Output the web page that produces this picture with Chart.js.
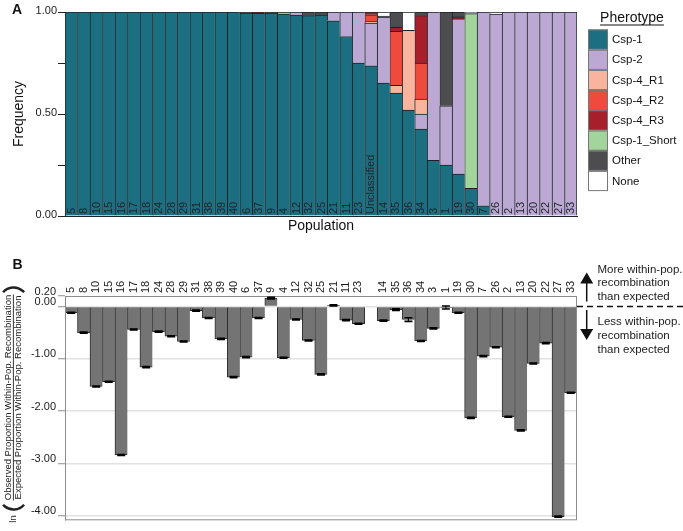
<!DOCTYPE html>
<html>
<head>
<meta charset="utf-8">
<title>Pherotype frequency and within-population recombination</title>
<script src="https://cdn.jsdelivr.net/npm/chart.js@4.4.1/dist/chart.umd.min.js"></script>
<style>
  html, body { margin: 0; padding: 0; background: #fff; }
  #wrap { position: relative; width: 683px; height: 531px; overflow: hidden; }
  #chartA { position: absolute; left: 0; top: 0; }
  #chartB { position: absolute; left: 0; top: 240px; }
</style>
</head>
<body>
<div id="wrap">
  <canvas id="chartA" width="683" height="240"></canvas>
  <canvas id="chartB" width="683" height="291"></canvas>
</div>
<script>
// populations, in the order they are plotted in both panels
const populations = ['5', '8', '10', '15', '16', '17', '18', '24', '28', '29',
  '31', '38', '39', '40', '6', '37', '9', '4', '12', '32',
  '25', '21', '11', '23', 'Unclassified', '14', '35', '36', '34', '3',
  '1', '19', '30', '7', '26', '2', '13', '20', '22', '27', '33'];

// Panel A: pherotype frequency per population
const csp1 = [1, 1, 1, 1, 1, 1, 1, 1, 1, 1,
  1, 1, 1, 1, 0.995, 0.993, 0.995, 0.99, 0.985, 0.982,
  0.985, 0.957, 0.88, 0.75, 0.736, 0.651, 0.602, 0.519, 0.426, 0.273,
  0.249, 0.206, 0.136, 0.05, 0, 0, 0, 0, 0, 0, 0];
const csp2 = [0, 0, 0, 0, 0, 0, 0, 0, 0, 0,
  0, 0, 0, 0, 0, 0, 0, 0, 0.015, 0,
  0, 0.043, 0.12, 0.25, 0.21, 0.324, 0, 0, 0.073, 0.727,
  0.291, 0.76, 0, 0.95, 0.99, 1, 1, 1, 1, 1, 1];
const csp4R1 = [0, 0, 0, 0, 0, 0, 0, 0, 0, 0,
  0, 0, 0, 0, 0, 0, 0, 0, 0, 0,
  0, 0, 0, 0, 0.008, 0, 0.038, 0.391, 0.074, 0,
  0, 0, 0, 0, 0, 0, 0, 0, 0, 0, 0];
const csp4R2 = [0, 0, 0, 0, 0, 0, 0, 0, 0, 0,
  0, 0, 0, 0, 0, 0, 0, 0, 0, 0,
  0, 0, 0, 0, 0.032, 0, 0.265, 0, 0.177, 0,
  0, 0, 0, 0, 0, 0, 0, 0, 0, 0, 0];
const csp4R3 = [0, 0, 0, 0, 0, 0, 0, 0, 0, 0,
  0, 0, 0, 0, 0, 0.007, 0, 0, 0, 0,
  0, 0, 0, 0, 0.014, 0, 0.02, 0, 0.232, 0,
  0, 0.01, 0, 0, 0, 0, 0, 0, 0, 0, 0];
const csp1Short = [0, 0, 0, 0, 0, 0, 0, 0, 0, 0,
  0, 0, 0, 0, 0, 0, 0, 0.01, 0, 0,
  0, 0, 0, 0, 0, 0, 0, 0, 0, 0,
  0, 0, 0.856, 0, 0, 0, 0, 0, 0, 0, 0];
const other = [0, 0, 0, 0, 0, 0, 0, 0, 0, 0,
  0, 0, 0, 0, 0.005, 0, 0.005, 0, 0, 0.018,
  0.015, 0, 0, 0, 0, 0.005, 0.075, 0, 0.018, 0,
  0.46, 0.024, 0, 0, 0, 0, 0, 0, 0, 0, 0];
const none = [0, 0, 0, 0, 0, 0, 0, 0, 0, 0,
  0, 0, 0, 0, 0, 0, 0, 0, 0, 0,
  0, 0, 0, 0, 0, 0.02, 0, 0.09, 0, 0,
  0, 0, 0.008, 0, 0.01, 0, 0, 0, 0, 0, 0];

// Panel B: ln(observed / expected within-pop. recombination), with error
const lnRatio = [-0.12, -0.50, -1.53, -1.44, -2.84, -0.44, -1.16, -0.48, -0.57, -0.67,
  -0.08, -0.22, -0.62, -1.35, -0.97, -0.22, 0.16, -0.98, -0.25, -0.65,
  -1.30, 0.02, -0.26, -0.33, null, -0.27, -0.06, -0.25, -0.66, -0.42,
  -0.02, -0.12, -2.13, -0.95, -0.78, -2.11, -2.37, -1.09, -0.70, -4.02, -1.65];
const lnRatioErr = [0.01, 0.01, 0.01, 0.01, 0.01, 0.01, 0.01, 0.01, 0.01, 0.01,
  0.01, 0.01, 0.01, 0.01, 0.01, 0.01, 0.015, 0.01, 0.01, 0.01,
  0.01, 0.01, 0.01, 0.01, null, 0.01, 0.015, 0.035, 0.01, 0.01,
  0.03, 0.01, 0.01, 0.01, 0.01, 0.01, 0.01, 0.01, 0.01, 0.01, 0.01];

const freqTicks = [0, 0.25, 0.5, 0.75, 1];
const ratioTicks = [0.2, 0, -1, -2, -3, -4];

const FONT = "'Liberation Sans', Arial, Helvetica, sans-serif";
Chart.defaults.font.family = FONT;
Chart.defaults.color = '#1a1a1a';

const pherotypes = [
  { label: 'Csp-1', data: csp1, color: '#1c6f80' },
  { label: 'Csp-2', data: csp2, color: '#bba8d3' },
  { label: 'Csp-4_R1', data: csp4R1, color: '#f8b49c' },
  { label: 'Csp-4_R2', data: csp4R2, color: '#ee4b3d' },
  { label: 'Csp-4_R3', data: csp4R3, color: '#a71f2b' },
  { label: 'Csp-1_Short', data: csp1Short, color: '#a3d49b' },
  { label: 'Other', data: other, color: '#4d4d4f' },
  { label: 'None', data: none, color: '#ffffff' }
];

const last = populations.length - 1;

// draws population names inside the bars and the custom legend
const panelAExtras = {
  id: 'panelAExtras',
  afterDatasetsDraw(chart) {
    const { ctx, chartArea, scales: { x } } = chart;
    ctx.save();
    ctx.font = '11px ' + FONT;
    ctx.fillStyle = '#1d2427';
    ctx.textAlign = 'left';
    ctx.textBaseline = 'middle';
    populations.forEach((p, i) => {
      ctx.save();
      ctx.translate(x.getPixelForValue(i) + 0.5, chartArea.bottom - 2);
      ctx.rotate(-Math.PI / 2);
      ctx.fillText(p, 0, 0);
      ctx.restore();
    });
    ctx.restore();
  },
  afterDraw(chart) {
    const ctx = chart.ctx;
    ctx.save();
    ctx.fillStyle = '#111';
    ctx.font = 'bold 14px ' + FONT;
    ctx.textAlign = 'center';
    ctx.textBaseline = 'middle';
    ctx.fillText('A', 17, 10);

    ctx.font = '14px ' + FONT;
    ctx.fillText('Pherotype', 632, 18);
    const w = ctx.measureText('Pherotype').width;
    ctx.fillRect(632 - w / 2, 24.5, w, 1);

    ctx.font = '11.5px ' + FONT;
    ctx.textAlign = 'left';
    pherotypes.forEach((p, i) => {
      const y = 29.5 + i * 20.2;
      ctx.fillStyle = p.color;
      ctx.fillRect(588, y, 20, 20.2);
      ctx.strokeStyle = '#777';
      ctx.lineWidth = 1;
      ctx.strokeRect(588.5, y + 0.5, 19, 19.2);
      ctx.fillStyle = '#111';
      ctx.fillText(p.label, 612, y + 10.5);
    });
    ctx.restore();
  }
};

new Chart(document.getElementById('chartA'), {
  type: 'bar',
  data: {
    labels: populations,
    datasets: pherotypes.map(p => ({
      label: p.label,
      data: p.data.map(v => (v === 0 ? null : v)),
      backgroundColor: p.color,
      borderColor: '#1b2326',
      borderSkipped: false,
      borderWidth: c => ({ top: 1, left: 1, bottom: 0, right: c.dataIndex === last ? 1 : 0 }),
      categoryPercentage: 1,
      barPercentage: 1
    }))
  },
  options: {
    responsive: false,
    animation: false,
    layout: { padding: { top: 12, right: 106, bottom: 0, left: 0 } },
    plugins: { legend: { display: false }, tooltip: { enabled: false } },
    scales: {
      x: {
        stacked: true,
        ticks: { display: false },
        grid: { display: false },
        border: { display: true, color: '#1b2326' },
        title: { display: true, text: 'Population', font: { size: 14 }, color: '#111', padding: { top: 0, bottom: 5.6 } },
        afterFit: s => { s.height = 24; }
      },
      y: {
        stacked: true,
        min: 0,
        max: 1,
        afterBuildTicks: s => { s.ticks = freqTicks.map(v => ({ value: v })); },
        ticks: {
          autoSkip: false,
          padding: 1,
          labelOffset: -1,
          font: { size: 11 },
          color: '#1a1a1a',
          callback: v => (v === 0 || v === 0.5 || v === 1 ? v.toFixed(2) : '')
        },
        grid: { drawOnChartArea: false, tickLength: 7, color: '#1b2326' },
        border: { color: '#1b2326' },
        title: { display: true, text: 'Frequency', font: { size: 14 }, color: '#111', padding: { top: 10.6, bottom: 0 } },
        afterFit: s => { s.width = 65; }
      }
    }
  },
  plugins: [panelAExtras]
});

// Panel B helpers: plot box, error bars, fraction axis title, side notes
const panelBExtras = {
  id: 'panelBExtras',
  afterDatasetsDraw(chart) {
    const { ctx, chartArea: a, scales: { x, y } } = chart;
    ctx.save();
    ctx.strokeStyle = '#8c8c8c';
    ctx.lineWidth = 1;
    ctx.strokeRect(a.left + 0.5, a.top + 0.5, a.right - a.left - 1, a.bottom - a.top);

    ctx.strokeStyle = '#000';
    lnRatio.forEach((v, i) => {
      if (v === null) return;
      const e = lnRatioErr[i];
      const px = x.getPixelForValue(i);
      const y1 = y.getPixelForValue(v - e);
      const y2 = y.getPixelForValue(v + e);
      ctx.lineWidth = 1;
      ctx.beginPath();
      ctx.moveTo(px, y1);
      ctx.lineTo(px, y2);
      ctx.stroke();
      ctx.lineWidth = 1.6;
      ctx.beginPath();
      ctx.moveTo(px - 4, y1);
      ctx.lineTo(px + 4, y1);
      ctx.moveTo(px - 4, y2);
      ctx.lineTo(px + 4, y2);
      ctx.stroke();
    });
    ctx.restore();
  },
  afterDraw(chart) {
    const { ctx, chartArea: a, scales: { y } } = chart;
    ctx.save();
    ctx.fillStyle = '#111';
    ctx.strokeStyle = '#111';
    ctx.font = 'bold 14px ' + FONT;
    ctx.textAlign = 'center';
    ctx.textBaseline = 'middle';
    ctx.fillText('B', 17.5, 25);

    // ln( observed / expected ) title, rotated
    ctx.save();
    ctx.translate(13.3, 157.5);
    ctx.rotate(-Math.PI / 2);
    ctx.font = '9.5px ' + FONT;
    ctx.fillStyle = '#222';
    ctx.fillText('Observed Proportion Within-Pop. Recombination', 0, -4.6);
    ctx.fillText('Expected Proportion Within-Pop. Recombination', 0, 5.2);
    ctx.fillRect(-103, -0.4, 206, 0.9);
    ctx.fillText('ln', -121.5, 0);
    ctx.lineWidth = 2.4;
    ctx.strokeStyle = '#222';
    ctx.beginPath();
    ctx.arc(-112 + 14, 0.3, 14, Math.PI - 0.85, Math.PI + 0.85);
    ctx.stroke();
    ctx.beginPath();
    ctx.arc(110 - 14, 0.3, 14, -0.85, 0.85);
    ctx.stroke();
    ctx.restore();

    // dashed zero line beyond the plot and the two arrows
    const y0 = y.getPixelForValue(0);
    ctx.lineWidth = 1.4;
    ctx.setLineDash([6, 4]);
    ctx.beginPath();
    ctx.moveTo(a.right, y0);
    ctx.lineTo(683, y0);
    ctx.stroke();
    ctx.setLineDash([]);

    const ax = 586.7;
    ctx.lineWidth = 1.5;
    ctx.beginPath();
    ctx.moveTo(ax, 61.5);
    ctx.lineTo(ax, 42);
    ctx.moveTo(ax, 70);
    ctx.lineTo(ax, 90);
    ctx.stroke();
    ctx.beginPath();
    ctx.moveTo(ax, 32.5);
    ctx.lineTo(ax - 6.5, 43.5);
    ctx.lineTo(ax + 6.5, 43.5);
    ctx.closePath();
    ctx.moveTo(ax, 100);
    ctx.lineTo(ax - 6.5, 89);
    ctx.lineTo(ax + 6.5, 89);
    ctx.closePath();
    ctx.fill();

    ctx.font = '11.5px ' + FONT;
    ctx.textAlign = 'left';
    ctx.fillStyle = '#222';
    ['More within-pop.', 'recombination', 'than expected'].forEach((t, i) => ctx.fillText(t, 597.5, 29.5 + i * 13.7));
    ['Less within-pop.', 'recombination', 'than expected'].forEach((t, i) => ctx.fillText(t, 597.5, 82 + i * 13.7));
    ctx.restore();
  }
};

new Chart(document.getElementById('chartB'), {
  type: 'bar',
  data: {
    labels: populations,
    datasets: [{
      label: 'ln ratio',
      data: lnRatio,
      backgroundColor: '#747474',
      borderColor: '#2e2e2e',
      borderWidth: c => ({
        top: 1, bottom: 1, left: 1,
        right: (c.dataIndex === last || lnRatio[c.dataIndex + 1] === null) ? 1 : 0
      }),
      categoryPercentage: 1,
      barPercentage: 1
    }]
  },
  options: {
    responsive: false,
    animation: false,
    layout: { padding: { top: 0, right: 106, bottom: 11.7, left: 0 } },
    plugins: { legend: { display: false }, tooltip: { enabled: false } },
    scales: {
      x: {
        position: 'top',
        ticks: {
          autoSkip: false,
          minRotation: 90,
          maxRotation: 90,
          padding: 3,
          // top-axis rotated labels sit one line-height left of the tick, pull them back
          labelOffset: 13.2,
          font: { size: 11 },
          color: '#1a1a1a',
          callback: (v, i) => (populations[i] === 'Unclassified' ? '' : populations[i])
        },
        grid: { display: false, drawTicks: false },
        border: { display: false },
        afterFit: s => { s.height = 56; }
      },
      y: {
        min: -4.07,
        max: 0.2,
        afterBuildTicks: s => { s.ticks = ratioTicks.map(v => ({ value: v })); },
        ticks: {
          autoSkip: false,
          padding: 2,
          labelOffset: -4.5,
          font: { size: 11 },
          color: '#1a1a1a',
          callback: v => v.toFixed(2)
        },
        grid: {
          color: c => (c.tick && c.tick.value === 0.2 ? 'rgba(0,0,0,0)' : '#e2e2e2'),
          lineWidth: 1.5,
          tickColor: '#8c8c8c',
          tickWidth: 1,
          tickLength: 7
        },
        border: { color: '#8c8c8c' },
        afterFit: s => { s.width = 65; }
      }
    }
  },
  plugins: [panelBExtras]
});
</script>
</body>
</html>
